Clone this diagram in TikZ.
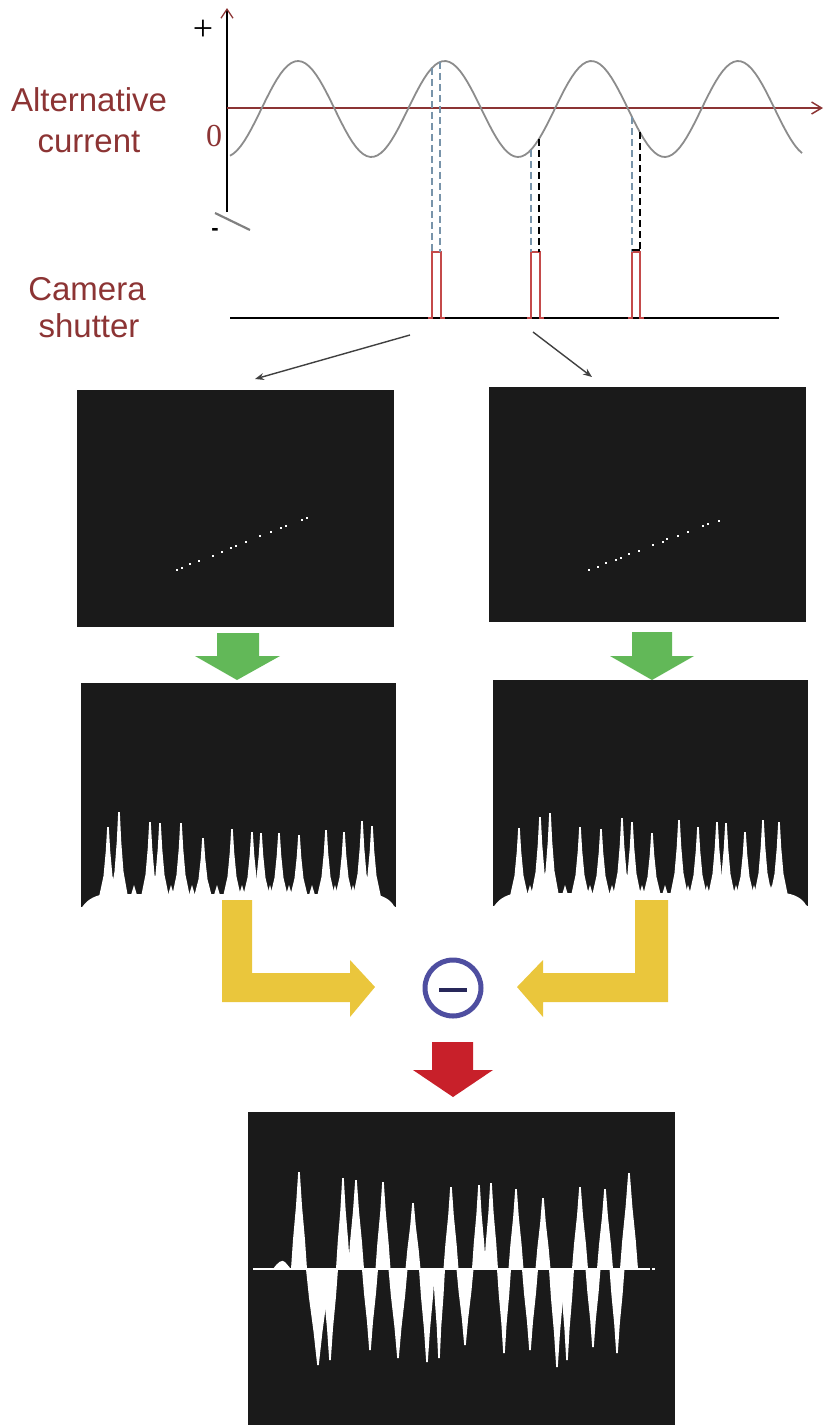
\documentclass[tikz,border=0pt]{standalone}
\usepackage{fontspec}
\setmainfont{Liberation Sans}
\newfontfamily\zerofont{Liberation Serif}
\usetikzlibrary{arrows.meta,calc}
\definecolor{acred}{RGB}{140,52,52}
\definecolor{pulsered}{RGB}{196,74,74}
\definecolor{wavegray}{RGB}{140,140,140}
\definecolor{dashblue}{RGB}{120,148,170}
\definecolor{scanblack}{RGB}{26,26,26}
\definecolor{arrowgreen}{RGB}{98,184,88}
\definecolor{arrowyellow}{RGB}{234,198,60}
\definecolor{minusblue}{RGB}{78,78,160}
\definecolor{minusdark}{RGB}{40,40,90}
\definecolor{arrowred}{RGB}{200,32,42}
% white tapered spike: base y, centre x, half width, tip y, waist factor
\newcommand{\whitespike}[5]{%
  \fill[white] ({#2-#3},#1) -- ({#2-#5*#3},{#1+0.3*(#4-#1)}) -- ({#2-0.5*#5*#3},{#1+0.65*(#4-#1)})
    -- ({#2-0.8},#4) -- ({#2+0.8},#4) -- ({#2+0.5*#5*#3},{#1+0.65*(#4-#1)})
    -- ({#2+#5*#3},{#1+0.3*(#4-#1)}) -- ({#2+#3},#1) -- cycle;}

\begin{document}
\begin{tikzpicture}[
  x=1pt, y=-1pt,
  declare function={acwave(\t)=109-48*cos(2.454*(\t-298));},
  label/.style={text=acred, font=\fontsize{33}{36}\selectfont, anchor=base},
  wave/.style={wavegray, line width=1.8pt},
  probe/.style={dashblue, line width=1.6pt, dash pattern=on 7pt off 4pt},
  probedark/.style={black, line width=1.4pt, dash pattern=on 7pt off 4pt},
  pulse/.style={pulsered, line width=1.6pt},
  pick/.style={black!75, line width=1.4pt, -{Stealth[length=9pt, width=7pt]}},
  panel/.style={fill=scanblack},
  bigarrow/.style={line join=miter}
]
\useasboundingbox (0,0) rectangle (825,1425);

% --- alternating current ---
\draw[black, line width=1.3pt, -{Straight Barb[length=9pt, width=12pt, color=acred]}] (227,212) -- (227,8);
\draw[acred, line width=1.5pt, -{Straight Barb[length=10pt, width=12pt]}] (227,108) -- (823,108);
\node[font=\zerofont\fontsize{36}{38}\selectfont] (plus) at (203,30) {+};
\node[text=acred, font=\zerofont\fontsize{32}{34}\selectfont] (zero) at (214,136) {0};
\node[font=\bfseries\fontsize{22}{24}\selectfont] (minus) at (215,232) {-};
\draw[gray, line width=2.2pt] (215,213) -- (250,230);
\draw[wave] plot[domain=230:802, samples=160] (\x, {acwave(\x)});
\node[label] (ac1) at (89,111) {Alternative};
\node[label] (ac2) at (89,152) {current};

% --- shutter pulses ---
\node[label] (cam1) at (87,300) {Camera};
\node[label] (cam2) at (89,337) {shutter};
\draw[black, line width=1.8pt] (230,318) -- (779,318);
\foreach \a/\b in {432/441, 531/540, 632/640}{
  \draw[pulse] ({\a-4},318) -- (\a,318) -- (\a,252) -- (\b,252) -- (\b,318) -- ({\b+4},318);
}
\draw[probe] (432,{acwave(432)}) -- (432,252);
\draw[probe] (440,{acwave(440)}) -- (440,252);
\draw[probe] (531,{acwave(531)}) -- (531,252);
\draw[probedark] (539,{acwave(539)}) -- (539,252);
\draw[probe] (632,{acwave(632)}) -- (632,252);
\draw[probedark] (640,{acwave(640)}) -- (640,252);
\draw[black, line width=1.4pt] (632,250) -- (640,250);

\coordinate (shotA) at (410,335);
\coordinate (shotB) at (533,332);
\coordinate (frameA) at (255,379);
\coordinate (frameB) at (592,377);
\draw[pick] (shotA) -- (frameA);
\draw[pick] (shotB) -- (frameB);

% --- raw frames with the lamp dots ---
\fill[panel] (77,390) rectangle (394,627);
\fill[panel] (489,387) rectangle (806,622);
\foreach \x/\y in {177/570, 182/568, 190/564, 199/561, 213/556, 222/552, 231/548, 236/546,
                   246/542, 260/536, 271/532, 281/528, 286/526, 302/520, 307/518}
  \fill[white] ({\x-1.4},{\y-1.4}) rectangle ++(2.8,2.8);
\foreach \x/\y in {589/570, 598/567, 606/563, 616/560, 621/558, 629/554, 639/551, 653/545,
                   663/542, 667/539, 678/536, 688/532, 703/526, 708/524, 719/521}
  \fill[white] ({\x-1.4},{\y-1.4}) rectangle ++(2.8,2.8);

% --- green step arrows ---
\fill[arrowgreen, bigarrow] (217,633) -- (259,633) -- (259,656) -- (280,656) -- (237,680)
  -- (195,656) -- (217,656) -- cycle;
\fill[arrowgreen, bigarrow] (632,632) -- (672,632) -- (672,656) -- (694,656) -- (652,680)
  -- (610,656) -- (632,656) -- cycle;

% --- column profiles ---
\fill[panel] (81,683) rectangle (396,907);
\fill[panel] (493,680) rectangle (808,906);
\fill[white] (80,909) -- (83,906) .. controls (88,899) and (96,895) .. (106,894)
  -- (372,894) .. controls (382,895) and (390,899) .. (394,906) -- (398,909) -- cycle;
\fill[white] (492,908) -- (495,905) .. controls (500,898) and (508,894) .. (518,893)
  -- (784,893) .. controls (794,894) and (802,898) .. (806,905) -- (810,908) -- cycle;
\foreach \c/\t in {108/827, 119/812, 150/822, 160/823, 181/823, 203/838, 232/829, 252/832,
                   261/833, 279/833, 299/835, 326/830, 344/832, 362/821, 372/826}
  {\whitespike{897}{\c}{9}{\t}{0.5}}
\foreach \c/\t in {519/828, 540/817, 550/813, 580/827, 601/829, 622/818, 632/822, 652/833,
                   679/820, 698/827, 717/822, 726/823, 745/832, 763/820, 779/822}
  {\whitespike{896}{\c}{9}{\t}{0.5}}
% ragged gaps between the teeth
\foreach \m in {134, 171, 192, 217, 242, 270, 289, 312, 335, 353,
                530, 565, 590, 612, 642, 665, 688, 707, 736, 754, 771}
  {\fill[white] ({\m-3},895) -- (\m,885) -- ({\m+3},895) -- cycle;}

% --- subtraction ---
\fill[arrowyellow, bigarrow] (222,900) -- (252,900) -- (252,973) -- (350,973) -- (350,960)
  -- (375,987) -- (350,1017) -- (350,1002) -- (222,1002) -- cycle;
\fill[arrowyellow, bigarrow] (635,900) -- (668,900) -- (668,1002) -- (543,1002) -- (543,1017)
  -- (517,987) -- (543,960) -- (543,973) -- (635,973) -- cycle;
\draw[minusblue, line width=5pt] (453,988) circle[radius=28];
\draw[minusdark, line width=4.5pt] (439,990) -- (467,990);
\fill[arrowred, bigarrow] (432,1042) -- (473,1042) -- (473,1070) -- (493,1070) -- (453,1097)
  -- (413,1070) -- (432,1070) -- cycle;

% --- difference image ---
\fill[panel] (248,1112) rectangle (675,1425);
\fill[white] (253,1268.3) rectangle (650,1269.7);
\fill[white] (273,1269) .. controls (278,1262) and (282,1259) .. (285,1262) -- (291,1269) -- cycle;
\fill[white] (652,1267.5) rectangle ++(2.5,2.5);
\foreach \c/\w/\t in {299/8/1172, 343/7/1178, 356/8/1180, 383/7.5/1182, 413/7.5/1203,
                      451/7.5/1187, 479/7/1185, 491/7/1183, 516/7.5/1189, 543/7.5/1198,
                      580/8/1187, 605/8/1189, 629/9/1173}
  {\whitespike{1269}{\c}{\w}{\t}{0.75}}
\foreach \c/\w/\t in {318/12/1365, 330/8/1360, 370/8/1350, 398/9.5/1358, 427/8/1362,
                      439/6/1358, 465/8.5/1345, 504/7/1353, 530/8/1350, 557/8/1367,
                      567/7/1360, 593/7.5/1347, 617/7.5/1353}
  {\whitespike{1269}{\c}{\w}{\t}{0.75}}
\end{tikzpicture}
\end{document}
